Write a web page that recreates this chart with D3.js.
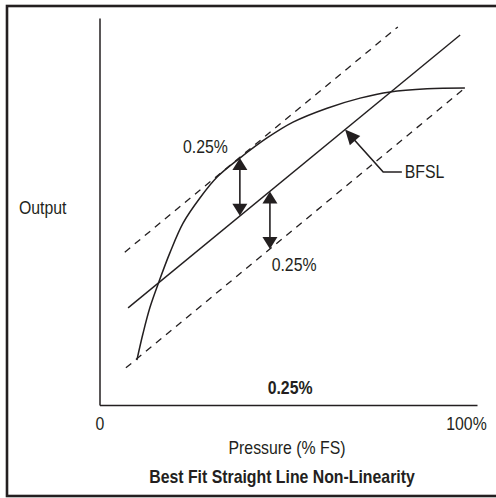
<!DOCTYPE html>
<html>
<head>
<meta charset="utf-8">
<title>Best Fit Straight Line Non-Linearity</title>
<script src="https://cdn.jsdelivr.net/npm/d3@7"></script>
<style>
    body { margin: 0; background: #fff; }
    text { font-family: "Liberation Sans Narrow", "Arial Narrow", "Liberation Sans", Arial, sans-serif; fill: #231f20; }
</style>
</head>
<body>
<script>
// values, in axis units (x: % FS, y: output %)
var bfsl = [[7.8, 25.1], [98.4, 95.6]];
var upperBand = [[6.9, 39.5], [81.4, 97.7]];
var lowerBand = [[7.2, 9.6], [99.7, 81.9]];
var curveX = [10.2, 11.9, 13.8, 16.2, 19.2, 22.8, 27.4, 32.1, 38.3, 45.7, 52.8, 62.1, 71.1, 79.3, 89.4, 99.7];
var curveY = [11.6, 18.6, 25.3, 31.8, 39.3, 47.0, 53.5, 58.9, 63.8, 69.0, 73.1, 76.7, 79.3, 80.9, 81.7, 81.9];
var arrowX = [38.3, 46.5];
var arrowTop = [63.8, 55.2];
var arrowBottom = [48.9, 40.3];
var xTickValues = [0, 100];
var xTickLabels = ["0", "100%"];
var calloutPath = [[67.0, 71.2], [77.4, 60.2], [82.5, 60.2]];
var notes = [
    {text: "0.25%", x: 28.9, y: 65.1, bold: false, anchor: "middle"},
    {text: "0.25%", x: 53.1, y: 34.6, bold: false, anchor: "middle"},
    {text: "0.25%", x: 52.0, y: 2.9, bold: true, anchor: "middle"},
    {text: "BFSL", x: 83.3, y: 58.7, bold: false, anchor: "start"}
];

var width = 496, height = 498;
var ink = "#231f20";
var fontSize = 18, squeeze = 0.88;   // condensed look

var svg = d3.select("body").append("svg")
        .attr("width", width)
        .attr("height", height);

// outer frame (right side runs off the picture)
svg.append("rect")
        .attr("x", 7)
        .attr("y", 6)
        .attr("width", 500)
        .attr("height", 490)
        .attr("fill", "none")
        .attr("stroke", ink)
        .attr("stroke-width", 2.6);

var x = d3.scaleLinear().domain([0, 103]).range([99.5, 477]);
var y = d3.scaleLinear().domain([0, 100]).range([405, 18]);

function label(px, py, str, anchor, bold) {
    return svg.append("text")
            .attr("transform", "translate(" + px + "," + py + ") scale(" + squeeze + ",1)")
            .attr("text-anchor", anchor)
            .style("font-size", fontSize + "px")
            .style("font-weight", bold ? "bold" : "normal")
            .text(str);
}

var xAxis = d3.axisBottom(x)
        .tickValues(xTickValues)
        .tickFormat(function (d, i) { return xTickLabels[i]; })
        .tickSize(0);

var xg = svg.append("g")
        .attr("transform", "translate(0," + y(0) + ")")
        .call(xAxis);
xg.select(".domain").attr("stroke", ink).attr("stroke-width", 1.5);
xg.selectAll(".tick text")
        .attr("y", 0)
        .attr("dy", null)
        .attr("transform", "translate(0,25) scale(" + squeeze + ",1)")
        .style("font-size", fontSize + "px")
        .style("font-family", null)
        .attr("fill", ink);

var yg = svg.append("g")
        .attr("transform", "translate(" + x(0) + ",0)")
        .call(d3.axisLeft(y).tickValues([]).tickSizeOuter(0));
yg.select(".domain").attr("stroke", ink).attr("stroke-width", 1.5);

var line = d3.line()
        .x(function (d) { return x(d[0]); })
        .y(function (d) { return y(d[1]); });

svg.append("path")
        .attr("d", line(bfsl))
        .attr("fill", "none")
        .attr("stroke", ink)
        .attr("stroke-width", 1.4);

[upperBand, lowerBand].forEach(function (band) {
    svg.append("path")
            .attr("d", line(band))
            .attr("fill", "none")
            .attr("stroke", ink)
            .attr("stroke-width", 1.3)
            .attr("stroke-dasharray", "7,6");
});

var curvePts = curveX.map(function (v, i) { return [v, curveY[i]]; });
var curveLine = d3.line()
        .x(function (d) { return x(d[0]); })
        .y(function (d) { return y(d[1]); })
        .curve(d3.curveCatmullRom);
svg.append("path")
        .attr("d", curveLine(curvePts))
        .attr("fill", "none")
        .attr("stroke", ink)
        .attr("stroke-width", 1.5);

// arrow head: tip at (tx,ty), pointing along angle a
function head(g, tx, ty, a, len, half) {
    var bx = tx - len * Math.cos(a), by = ty - len * Math.sin(a);
    var px = -Math.sin(a) * half, py = Math.cos(a) * half;
    g.append("path")
            .attr("d", "M" + tx + "," + ty +
                    "L" + (bx + px) + "," + (by + py) +
                    "L" + (bx - px) + "," + (by - py) + "Z")
            .attr("fill", ink);
}

arrowX.forEach(function (v, i) {
    var ax = x(v), y0 = y(arrowTop[i]), y1 = y(arrowBottom[i]);
    var g = svg.append("g");
    g.append("line")
            .attr("x1", ax).attr("x2", ax)
            .attr("y1", y0 + 8).attr("y2", y1 - 8)
            .attr("stroke", ink)
            .attr("stroke-width", 1.6);
    head(g, ax, y0, -Math.PI / 2, 12, 7.5);
    head(g, ax, y1, Math.PI / 2, 12, 7.5);
});

// BFSL callout
var cp = calloutPath.map(function (d) { return [x(d[0]), y(d[1])]; });
var ang = Math.atan2(cp[0][1] - cp[1][1], cp[0][0] - cp[1][0]);
svg.append("path")
        .attr("d", "M" + (cp[0][0] - 8 * Math.cos(ang)) + "," + (cp[0][1] - 8 * Math.sin(ang)) +
                "L" + cp[1][0] + "," + cp[1][1] + "L" + cp[2][0] + "," + cp[2][1])
        .attr("fill", "none")
        .attr("stroke", ink)
        .attr("stroke-width", 1.6);
head(svg, cp[0][0], cp[0][1], ang, 15, 7);

notes.forEach(function (d) {
    label(x(d.x), y(d.y), d.text, d.anchor, d.bold);
});

label(19, 214, "Output", "start", false);
label(287, 454, "Pressure (% FS)", "middle", false);
label(282, 483, "Best Fit Straight Line Non-Linearity", "middle", true);
</script>
</body>
</html>
